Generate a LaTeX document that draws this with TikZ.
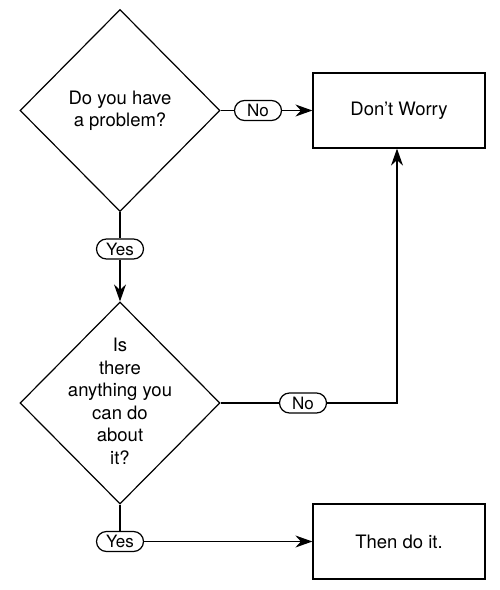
\documentclass[tikz,border=0pt]{standalone}
\usepackage{fontspec}
\setmainfont{TeX Gyre Heros}
\usetikzlibrary{arrows.meta,shapes.geometric,shapes.misc}
\begin{document}
\begin{tikzpicture}[x=1pt,y=-1pt,line width=1.2pt,
  every node/.style={font=\fontsize{18.5}{22.5}\selectfont},
  decision/.style={diamond, draw, line width=1.2pt, minimum width=200pt, minimum height=202pt, inner sep=0pt, aspect=1},
  pill/.style={rounded rectangle, draw, line width=1.2pt, minimum width=49pt, minimum height=20pt, inner sep=1pt, font=\fontsize{17}{18}\selectfont},
  outcome/.style={rectangle, draw, line width=1.2pt, minimum width=172pt, minimum height=75pt, inner sep=0pt},
  arr/.style={-{Stealth[length=17pt,width=12pt,inset=5.5pt]}}]
\useasboundingbox (0,0) rectangle (500,590);
\node[decision] (d1) at (120,110.5) {\raisebox{-5pt}[0pt][0pt]{\begin{tabular}{@{}c@{}}Do you have\\a problem?\end{tabular}}};
\node[pill] (no1) at (258,110.5) {No};
\node[outcome] (b1) at (399,110.5) {Don’t Worry};
\node[pill] (yes1) at (120,249) {Yes};
\node[decision] (d2) at (120,403) {\raisebox{-5pt}[0pt][0pt]{\begin{tabular}{@{}c@{}}Is\\there\\anything you\\can do\\about\\it?\end{tabular}}};
\node[pill] (no2) at (303,403) {No};
\node[pill] (yes2) at (120,541.5) {Yes};
\node[outcome] (b2) at (399,541.5) {Then do it.};
\draw (d1.east) -- (no1.west);
\draw[arr] (no1.east) -- (b1.west);
\draw (d1.south) -- (yes1.north);
\draw[arr] (yes1.south) -- (d2.north);
\draw (d2.east) -- (no2.west);
\draw[arr] (no2.east) -| ([xshift=-2pt]b1.south);
\draw (d2.south) -- (yes2.north);
\draw[arr] (yes2.east) -- (b2.west);
\end{tikzpicture}
\end{document}
